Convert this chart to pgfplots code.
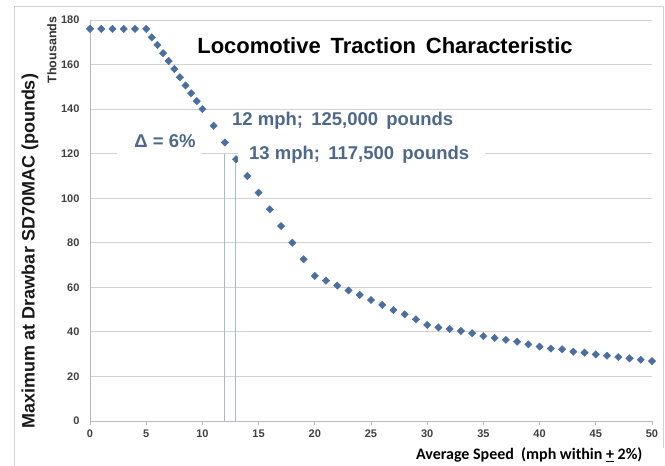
\documentclass[border=0pt]{standalone}
\usepackage{fontspec}
\setmainfont{Liberation Sans}
\newfontfamily\calibri{Carlito}
\usepackage{pgfplots}
\pgfplotsset{compat=1.18}
\definecolor{mk}{RGB}{74,110,160}
\definecolor{ann}{RGB}{78,104,140}
\definecolor{vl}{RGB}{168,184,208}
\begin{document}
\begin{tikzpicture}[x=1pt,y=1pt]
\path[use as bounding box] (0,0) rectangle (665,466);
\draw[gray!35, line width=1pt] (14,0) -- (14,459) -- (663,459) -- (663,18);
\begin{axis}[
  at={(90pt,45pt)}, anchor=south west,
  scale only axis, width=562pt, height=401pt,
  xmin=0, xmax=50, ymin=0, ymax=180,
  xtick={0,5,...,50}, ytick={0,20,...,180},
  axis lines*=left,
  axis line style={draw=gray!55, line width=0.8pt, -},
  ymajorgrids, grid style={draw=gray!35, line width=0.8pt},
  ytick style={draw=none},
  xtick style={draw=gray!55, line width=0.8pt},
  tick align=outside, major tick length=4pt,
  /pgf/number format/assume math mode=true,
  ticklabel style={font=\bfseries\fontsize{11}{12}\selectfont, text=black!75},
  yticklabel style={xshift=-3pt},
  xticklabel style={yshift=-1pt},
  clip=false,
]
\draw[vl, line width=0.9pt] (axis cs:11.95,0) -- (axis cs:11.95,120);
\draw[vl, line width=0.9pt] (axis cs:12.95,0) -- (axis cs:12.95,117.5);
\addplot[only marks, mark=square*, mark size=2.6pt, color=mk,
  every mark/.append style={rotate=45}] coordinates {
(0,176) (1,176) (2,176) (3,176) (4,176) (5,176) (5.5,172.2) (6,168.8) (6.5,165.1)
(7,161.6) (7.5,158) (8,154.3) (8.5,150.6) (9,147.1) (9.5,143.6) (10,140)
(11,132.5) (12,125) (13,117.5) (14,110) (15,102.5) (16,95) (17,87.5) (18,80)
(19,72.6) (20,65.1) (21,63) (22,60.8) (23,58.6) (24,56.6) (25,54.3) (26,52.1)
(27,49.8) (28,47.9) (29,45.6) (30,43.1) (31,42) (32,41.3) (33,40.4) (34,39.4)
(35,38.1) (36,37.3) (37,36.4) (38,35.6) (39,34.4) (40,33.4) (41,32.5) (42,32.2)
(43,31.1) (44,30.7) (45,29.9) (46,29.3) (47,28.7) (48,28.1) (49,27.5) (50,26.9)
};
\end{axis}
% white boxes masking gridline
\fill[white] (117,308) rectangle (201,336);
\fill[white] (238,302) rectangle (485,322);
\node[font=\bfseries\fontsize{22}{26}\selectfont, text=black] at (385,420) {Locomotive\, Traction\, Characteristic};
\node[anchor=west, font=\bfseries\fontsize{18.5}{22}\selectfont, text=ann, inner sep=0pt] at (232,345) {12 mph;\, 125,000\, pounds};
\node[font=\bfseries\fontsize{18.5}{22}\selectfont, text=ann, inner sep=0pt] at (165,325) {Δ = 6\%};
\node[anchor=west, font=\bfseries\fontsize{18.5}{22}\selectfont, text=ann, inner sep=0pt] at (249,311) {13 mph;\, 117,500\, pounds};
\node[rotate=90, font=\bfseries\fontsize{18}{20}\selectfont, text=black!90] at (30,215) {Maximum at Drawbar SD70MAC (pounds)};
\node[rotate=90, font=\bfseries\fontsize{12.5}{14}\selectfont, text=black!80] at (52,416) {Thousands};
\node[anchor=east, font=\calibri\bfseries\fontsize{16}{19}\selectfont, text=black] at (646,11) {Average Speed\ \ (mph within \underline{+} 2\%)};
\end{tikzpicture}
\end{document}
